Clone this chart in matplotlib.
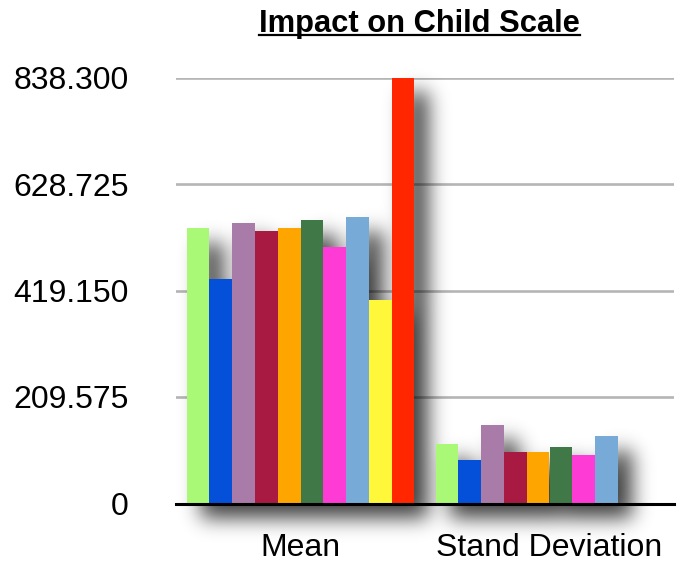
import matplotlib
matplotlib.use("Agg")
import matplotlib.pyplot as plt
import numpy as np
from matplotlib.lines import Line2D

W, H, DPI = 681, 565, 100

categories = ["Mean", "Stand Deviation"]
yticks = [0, 209.575, 419.150, 628.725, 838.300]
ytick_labels = ["0", "209.575", "419.150", "628.725", "838.300"]

# one value per series; the last two series have no "Stand Deviation" bar
mean_values = [542, 442, 552, 536, 542, 558, 505, 564, 400, 838.3]
sd_values = [117, 86, 154, 101, 101, 111, 95, 133]

colors = ["#a9f977", "#0450d8", "#a97ba8", "#a91a42", "#ffa500",
          "#417847", "#ff3bd6", "#77aad6", "#fff73a", "#ff2600"]


def blur(a, sigma):
    r = int(3 * sigma)
    k = np.exp(-0.5 * (np.arange(-r, r + 1) / sigma) ** 2)
    k /= k.sum()
    a = np.apply_along_axis(lambda m: np.convolve(m, k, mode="same"), 0, a)
    a = np.apply_along_axis(lambda m: np.convolve(m, k, mode="same"), 1, a)
    return a


def main():
    plt.rcParams["font.family"] = ["Liberation Sans", "DejaVu Sans"]
    fig = plt.figure(figsize=(W / DPI, H / DPI), dpi=DPI)
    ax = fig.add_axes([176 / W, 61.5 / H, 498 / W, 426 / H])

    width = 0.0914
    start = 0.043
    bars = []
    for i, color in enumerate(colors):
        vals = [mean_values[i]]
        if i < len(sd_values):
            vals.append(sd_values[i])
        xs = np.arange(len(vals)) + start + i * width
        bars += list(ax.bar(xs, vals, width, align="edge", color=color,
                            zorder=3, linewidth=0))

    ax.set_xlim(0, 2)
    ax.set_ylim(0, 838.3)
    ax.set_yticks(yticks, ytick_labels)
    ax.set_xticks([0.5, 1.5], categories)
    ax.tick_params(length=0, labelsize=23)
    ax.tick_params(axis="y", pad=34)
    ax.tick_params(axis="x", pad=21)
    ax.grid(axis="y", color="#b5b5b5", lw=1.9)
    ax.set_axisbelow(True)
    for s in ["left", "right", "top"]:
        ax.spines[s].set_visible(False)
    ax.spines["bottom"].set_linewidth(2.2)
    ax.spines["bottom"].set_zorder(4)

    # drop shadow behind the bars
    fig.canvas.draw()
    dx, dy, sigma = 14, 15, 10
    mask = np.zeros((H, W))
    for b in bars:
        ext = b.get_window_extent()
        x0, x1 = int(round(ext.x0)), int(round(ext.x1))
        y0, y1 = H - int(round(ext.y1)), H - int(round(ext.y0))
        mask[y0 + dy:y1 + dy, x0 + dx:x1 + dx] = 1
    img = np.zeros((H, W, 4))
    img[..., 3] = np.clip(blur(mask, sigma) * 0.75, 0, 1)
    inv = ax.transData.inverted()
    xa, ya = inv.transform((0, 0))
    xb, yb = inv.transform((W, H))
    ax.imshow(img, extent=(xa, xb, ya, yb), origin="upper", aspect="auto",
              zorder=2, clip_on=False, interpolation="bilinear")
    ax.set_xlim(0, 2)
    ax.set_ylim(0, 838.3)

    t = fig.text(419.5 / W, 1 - 32 / H, "Impact on Child Scale", ha="center",
                 va="baseline", fontsize=22.2, fontweight="bold")
    fig.canvas.draw()
    ext = t.get_window_extent()
    fig.add_artist(Line2D([ext.x0 / W, ext.x1 / W], [1 - 35 / H, 1 - 35 / H],
                          color="black", lw=1.6))

    fig.savefig("out.png", dpi=DPI)


if __name__ == "__main__":
    main()
